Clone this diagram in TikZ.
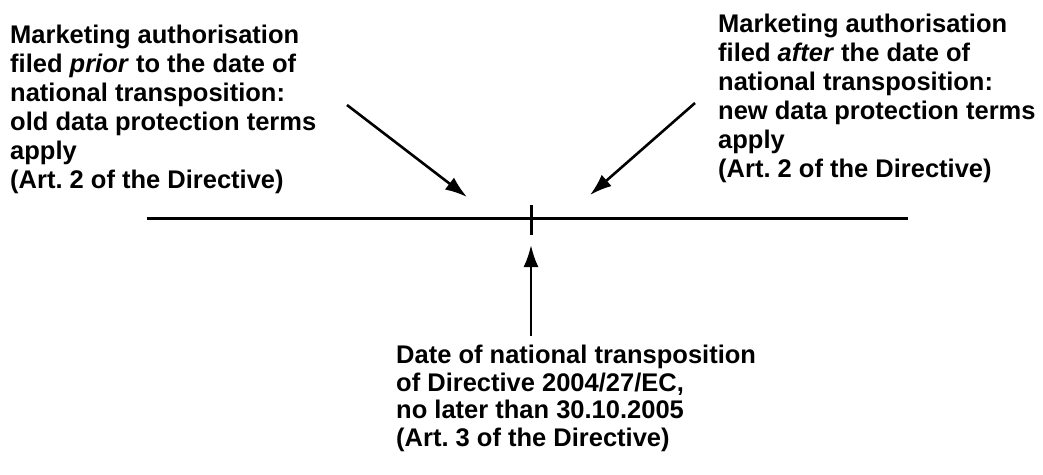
\documentclass[tikz,border=0pt]{standalone}
\usepackage{fontspec}
\setmainfont{Liberation Sans}
\usetikzlibrary{arrows.meta}
\begin{document}
\begin{tikzpicture}[x=1pt,y=-1pt,
  lbl/.style={anchor=base west,align=left,inner sep=0pt,font=\bfseries\fontsize{25.5}{29}\selectfont},
  axis/.style={line width=3pt},
  pointer/.style={line width=2.6pt,-{Latex[length=22pt,width=15pt]}}]
\useasboundingbox (0,0) rectangle (1043,474);
\node[lbl] (left) at (10,188) {Marketing authorisation\\filed \textit{prior} to the date of\\national transposition:\\old data protection terms\\apply\\(Art.~2 of the Directive)};
\node[lbl] (right) at (718,177) {Marketing authorisation\\filed \textit{after} the date of\\national transposition:\\new data protection terms\\apply\\(Art.~2 of the Directive)};
\node[lbl,font=\bfseries\fontsize{25.5}{27.5}\selectfont] (bottom) at (396,446) {Date of national transposition\\of Directive 2004/27/EC,\\no later than 30.10.2005\\(Art.~3 of the Directive)};
\coordinate (tl) at (147,218);
\coordinate (tr) at (908,218);
\coordinate (tickT) at (531,205);
\coordinate (tickB) at (531,235);
\coordinate (upS) at (531,336);
\coordinate (upE) at (531,245);
\coordinate (lS) at (347,105);
\coordinate (lE) at (467,197);
\coordinate (rS) at (695,103);
\coordinate (rE) at (590,195);
\draw[axis] (tl) -- (tr);
\draw[axis] (tickT) -- (tickB);
\draw[pointer] (upS) -- (upE);
\draw[pointer] (lS) -- (lE);
\draw[pointer] (rS) -- (rE);
\end{tikzpicture}
\end{document}
